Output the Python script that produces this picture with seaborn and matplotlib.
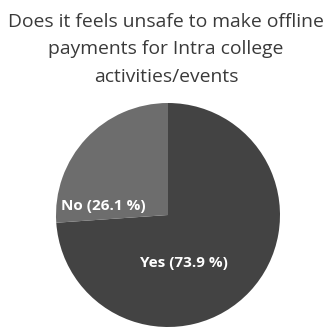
import matplotlib
matplotlib.use("Agg")
import matplotlib.pyplot as plt
import seaborn as sns

sns.set_theme(style="white")
plt.rcParams['font.family'] = ['Open Sans', 'DejaVu Sans']

title_lines = ["Does it feels unsafe to make offline",
               "payments for Intra college",
               "activities/events"]
categories = ["Yes", "No"]
values = [73.9, 26.1]
colors = ["#434343", "#6d6d6d"]

W, H = 332, 327
fig = plt.figure(figsize=(W / 100, H / 100), dpi=100)
fig.patch.set_facecolor("white")

cx, cy, r = 168, 215, 112
ax = fig.add_axes([(cx - r) / W, (H - cy - r) / H, 2 * r / W, 2 * r / H])
wedges, _ = ax.pie(values, colors=colors, startangle=90, counterclock=False,
                   radius=1.0, wedgeprops=dict(linewidth=0))
ax.set_xlim(-1, 1)
ax.set_ylim(-1, 1)
ax.set_aspect("equal")
ax.axis("off")

label_pos = {"Yes": (0.14, -0.43), "No": (-0.58, 0.08)}
for cat, val in zip(categories, values):
    x, y = label_pos[cat]
    ax.text(x, y, f"{cat} ({val} %)", color="white", fontsize=11,
            fontweight="bold", ha="center", va="center")

for i, line in enumerate(title_lines):
    ypix = 22 + i * 27.5
    fig.text(0.5, 1 - ypix / H, line, ha="center", va="center",
             fontsize=13.9, color="#3a3a3a")

fig.savefig("out.png", dpi=100, facecolor="white")
